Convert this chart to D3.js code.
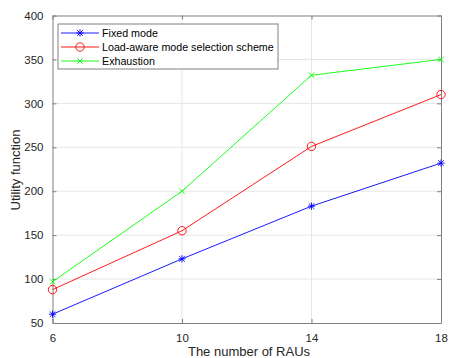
<!DOCTYPE html>
<html>
<head>
<meta charset="utf-8">
<script src="https://d3js.org/d3.v7.min.js"></script>
<style>
  body { margin: 0; background: #fff; }
  text { font-family: "Liberation Sans", Arial, sans-serif; }
</style>
</head>
<body>
<script>
// data
let raus = [6, 10, 14, 18];
let fixed_mode = [60, 123, 183, 232];
let load_aware = [88, 155, 251, 310];
let exhaustion = [97, 200, 332, 350];
let y_ticks = [50, 100, 150, 200, 250, 300, 350, 400];
let series_names = ["Fixed mode", "Load-aware mode selection scheme", "Exhaustion"];

const width = 449, height = 358;
const margin = {left: 52.5, right: 8, top: 15.5, bottom: 35};

let svg = d3.select("body").append("svg")
        .attr("width", width)
        .attr("height", height);

let x = d3.scaleLinear().domain([6, 18]).range([margin.left, width - margin.right]);
let y = d3.scaleLinear().domain([50, 400]).range([height - margin.bottom, margin.top]);

// grid
svg.append("g").selectAll("line").data(y_ticks.slice(1, -1)).join("line")
   .attr("x1", x(6)).attr("x2", x(18))
   .attr("y1", d => y(d)).attr("y2", d => y(d))
   .attr("stroke", "#e6e6e6").attr("stroke-width", 1);
svg.append("g").selectAll("line").data(raus.slice(1, -1)).join("line")
   .attr("x1", d => x(d)).attr("x2", d => x(d))
   .attr("y1", y(50)).attr("y2", y(400))
   .attr("stroke", "#e6e6e6").attr("stroke-width", 1);

// axes (ticks inward, matlab style)
let xAxis = d3.axisBottom(x).tickValues(raus).tickSizeInner(-4).tickSizeOuter(0).tickPadding(11);
let yAxis = d3.axisLeft(y).tickValues(y_ticks).tickSizeInner(-4).tickSizeOuter(0).tickPadding(9);

let gx = svg.append("g").attr("transform", "translate(0," + y(50) + ")").call(xAxis);
let gy = svg.append("g").attr("transform", "translate(" + x(6) + ",0)").call(yAxis);
let gx2 = svg.append("g").attr("transform", "translate(0," + y(400) + ")")
   .call(d3.axisTop(x).tickValues(raus).tickSizeInner(-4).tickSizeOuter(0).tickFormat(""));
let gy2 = svg.append("g").attr("transform", "translate(" + x(18) + ",0)")
   .call(d3.axisRight(y).tickValues(y_ticks).tickSizeInner(-4).tickSizeOuter(0).tickFormat(""));

[gx, gy, gx2, gy2].forEach(g => {
  g.select(".domain").attr("stroke", "#808080").attr("stroke-width", 1);
  g.selectAll(".tick line").attr("stroke", "#808080");
  g.selectAll(".tick text").attr("fill", "#262626").attr("font-size", 11.5)
   .attr("font-family", "'Liberation Sans', Arial, sans-serif");
});

svg.append("text")
   .attr("x", 249).attr("y", 356)
   .attr("text-anchor", "middle").attr("font-size", 13).attr("fill", "#262626")
   .text("The number of RAUs");
svg.append("text")
   .attr("transform", "translate(20,170) rotate(-90)")
   .attr("text-anchor", "middle").attr("font-size", 13).attr("fill", "#262626")
   .text("Utility function");

let series = [
  {name: series_names[0], values: fixed_mode, color: "#0000ff", marker: "star"},
  {name: series_names[1], values: load_aware, color: "#ff0000", marker: "circle"},
  {name: series_names[2], values: exhaustion, color: "#00ff00", marker: "cross"}
];

let line = d3.line().x((d, i) => x(raus[i])).y(d => y(d));

let draw_marker = function(g, type, color, cx, cy) {
  if (type === "circle") {
    g.append("circle").attr("cx", cx).attr("cy", cy).attr("r", 4.2)
     .attr("fill", "none").attr("stroke", color).attr("stroke-width", 0.9);
  } else {
    let s = type === "star" ? 2.8 : 2.8;
    let segs = [[-s, -s, s, s], [-s, s, s, -s]];
    if (type === "star") segs.push([-s * 1.3, 0, s * 1.3, 0], [0, -s * 1.3, 0, s * 1.3]);
    segs.forEach(p => g.append("line")
      .attr("x1", cx + p[0]).attr("y1", cy + p[1])
      .attr("x2", cx + p[2]).attr("y2", cy + p[3])
      .attr("stroke", color).attr("stroke-width", 0.9));
  }
};

series.forEach(s => {
  svg.append("path").datum(s.values)
     .attr("d", line).attr("fill", "none")
     .attr("stroke", s.color).attr("stroke-width", 0.9);
  let g = svg.append("g");
  s.values.forEach((v, i) => draw_marker(g, s.marker, s.color, x(raus[i]), y(v)));
});

// legend
const legend = {x: 58, y: 24, w: 220, h: 45, row: 14};
let lg = svg.append("g");
lg.append("rect").attr("x", legend.x).attr("y", legend.y)
  .attr("width", legend.w).attr("height", legend.h)
  .attr("fill", "#fff").attr("stroke", "#808080").attr("stroke-width", 1);
series.forEach((s, i) => {
  let ry = legend.y + 9 + i * legend.row;
  lg.append("line").attr("x1", legend.x + 3).attr("x2", legend.x + 41)
    .attr("y1", ry).attr("y2", ry).attr("stroke", s.color).attr("stroke-width", 0.9);
  draw_marker(lg, s.marker, s.color, legend.x + 22, ry);
  lg.append("text").attr("x", legend.x + 44).attr("y", ry + 4)
    .attr("font-size", 10.7).attr("fill", "#000").text(s.name);
});
</script>
</body>
</html>
